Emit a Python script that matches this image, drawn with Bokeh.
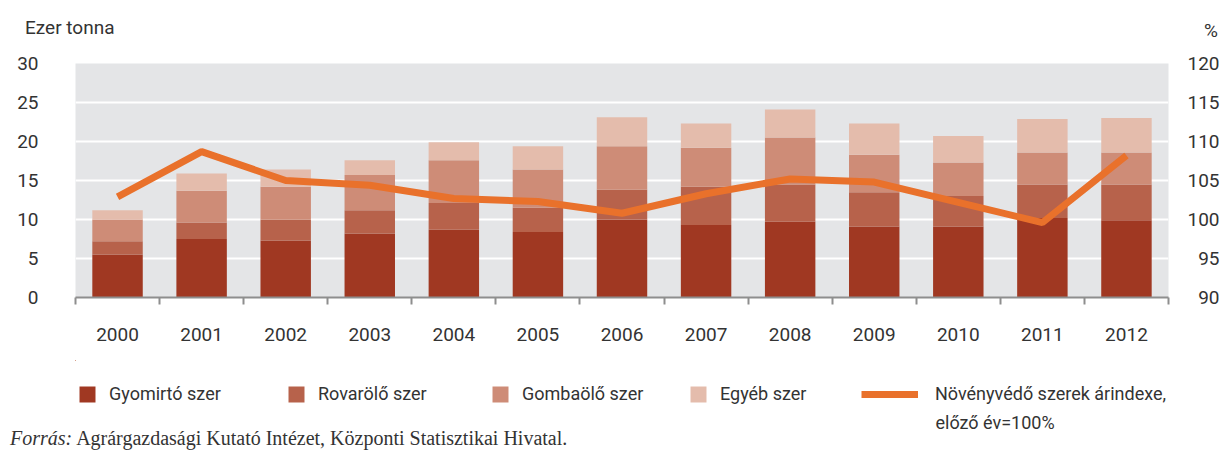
from bokeh.plotting import figure
from bokeh.layouts import column
from bokeh.models import (ColumnDataSource, Range1d, LinearAxis, FixedTicker,
                          Legend, LegendItem, Div)
from bokeh.core.properties import value
from bokeh.embed import file_html
from bokeh.resources import INLINE

# ---- data ----
years = ["2000", "2001", "2002", "2003", "2004", "2005", "2006",
         "2007", "2008", "2009", "2010", "2011", "2012"]
gyomirto = [5.5, 7.5, 7.3, 8.2, 8.7, 8.4, 10.0, 9.3, 9.7, 9.1, 9.1, 10.2, 9.9]
rovarolo = [1.7, 2.1, 2.7, 3.0, 3.4, 3.1, 3.8, 4.9, 4.8, 4.4, 3.9, 4.3, 4.6]
gombaolo = [2.8, 4.1, 4.2, 4.5, 5.5, 4.9, 5.6, 5.0, 6.0, 4.8, 4.3, 4.1, 4.1]
egyeb = [1.2, 2.2, 2.2, 1.9, 2.3, 3.0, 3.7, 3.1, 3.6, 4.0, 3.4, 4.3, 4.4]
arindex = [102.9, 108.7, 105.0, 104.4, 102.7, 102.3, 100.8,
           103.3, 105.2, 104.8, 102.2, 99.6, 108.2]
left_ticks = [0, 5, 10, 15, 20, 25, 30]
right_ticks = [90, 95, 100, 105, 110, 115, 120]
series_names = ["Gyomirtó szer", "Rovarölő szer", "Gombaölő szer", "Egyéb szer"]
line_name_1 = "Növényvédő szerek árindexe,"
line_name_2 = "előző év=100%"
left_unit = "Ezer tonna"
right_unit = "%"
source_lead = "Forrás:"
source_text = "Agrárgazdasági Kutató Intézet, Központi Statisztikai Hivatal."

FONT = "Roboto"
FS = "19px"
LFS = "18px"
TXT = "#333333"
colors = ["#A03822", "#B7624B", "#CE8C77", "#E4BCAC"]
LINE_COLOR = "#E9712B"
W = 1224
HEAD_H, MAIN_H, FOOT_H, SRC_H = 45, 315, 77, 13
BL, BR = 75, 56
FOOT_TOP = HEAD_H + MAIN_H

# ---- header (unit labels) ----
head = Div(width=W, height=HEAD_H, margin=0, text=(
    f'<div style="position:relative;width:{W}px;height:{HEAD_H}px;'
    f'font-family:{FONT};font-size:{FS};color:{TXT};line-height:20px;">'
    f'<span style="position:absolute;left:25px;top:18px;white-space:nowrap;">{left_unit}</span>'
    f'<span style="position:absolute;right:6px;top:21px;white-space:nowrap;">{right_unit}</span>'
    f'</div>'))

# ---- main chart ----
n = len(years)
xc = [i + 0.5 for i in range(n)]
source = ColumnDataSource(dict(x=xc, year=years, gy=gyomirto, rov=rovarolo,
                               gomb=gombaolo, egy=egyeb, idx=arindex))

p = figure(width=W, height=MAIN_H, output_backend="svg", toolbar_location=None,
           x_range=Range1d(0, n), y_range=Range1d(0, 30),
           min_border_left=BL, min_border_right=BR, min_border_top=18,
           min_border_bottom=63, background_fill_color="#E4E5E7",
           border_fill_color="white", outline_line_color=None)
p.extra_y_ranges = {"pct": Range1d(90, 120)}

p.xgrid.visible = False
p.ygrid.ticker = FixedTicker(ticks=left_ticks)
p.ygrid.grid_line_color = "white"
p.ygrid.grid_line_width = 2

p.vbar_stack(["gy", "rov", "gomb", "egy"], x="x", width=0.6,
             color=colors, line_color=None, source=source)
p.line("x", "idx", source=source, y_range_name="pct",
       line_color=LINE_COLOR, line_width=7)

xa = p.xaxis[0]
xa.ticker = FixedTicker(ticks=xc, minor_ticks=list(range(n + 1)))
xa.major_label_overrides = {xc[i]: years[i] for i in range(n)}
xa.major_tick_in = 0
xa.major_tick_out = 0
xa.minor_tick_in = 0
xa.minor_tick_out = 7
xa.minor_tick_line_color = "#8E8E8E"
xa.minor_tick_line_width = 2
xa.axis_line_color = "#8E8E8E"
xa.axis_line_width = 2
xa.major_label_standoff = 23
xa.major_label_text_font = FONT
xa.major_label_text_font_size = FS
xa.major_label_text_color = TXT

ya = p.yaxis[0]
ya.ticker = FixedTicker(ticks=left_ticks)
ya.axis_line_color = None
ya.major_tick_line_color = None
ya.minor_tick_line_color = None
ya.major_label_standoff = 31
ya.major_label_text_font = FONT
ya.major_label_text_font_size = FS
ya.major_label_text_color = TXT

ra = LinearAxis(y_range_name="pct", ticker=FixedTicker(ticks=right_ticks))
ra.major_label_overrides = {t: ("\u2007" + str(t) if t < 100 else str(t))
                            for t in right_ticks}
ra.axis_line_color = None
ra.major_tick_line_color = None
ra.minor_tick_line_color = None
ra.major_label_standoff = 13
ra.major_label_text_font = FONT
ra.major_label_text_font_size = FS
ra.major_label_text_color = TXT
p.add_layout(ra, "right")

# ---- footer: legend (keys reuse the same data, drawn outside the view) ----
foot = figure(width=W, height=FOOT_H, output_backend="svg", toolbar_location=None,
              x_range=Range1d(BL, W - BR), y_range=Range1d(FOOT_TOP + FOOT_H, FOOT_TOP),
              min_border_left=BL, min_border_right=BR, min_border_top=0,
              min_border_bottom=0, x_axis_location=None, y_axis_location=None,
              outline_line_color=None, background_fill_color="white",
              border_fill_color="white")
foot.grid.visible = False
key_bars = foot.vbar_stack(["gy", "rov", "gomb", "egy"], x="x", width=0.6,
                           color=colors, line_color=None, source=source)
key_line = foot.line("x", "idx", source=source, line_color=LINE_COLOR, line_width=7)

common = dict(padding=0, margin=0, border_line_color=None, background_fill_alpha=0,
              label_text_font=FONT, label_text_font_size=LFS, label_text_color=TXT)
key_x = [77, 286, 490, 688]
leg_y = FOOT_H - 44
for i in range(4):
    foot.add_layout(Legend(items=[LegendItem(label=series_names[i], renderers=[key_bars[i]])],
                           location=(key_x[i] - BL, leg_y), glyph_width=20, glyph_height=20,
                           label_standoff=12, **common))
foot.add_layout(Legend(items=[LegendItem(label=line_name_1, renderers=[key_line])],
                       location=(861 - BL, leg_y), glyph_width=57, glyph_height=20,
                       label_standoff=17, **common))
foot.text(x=[935], y=[FOOT_TOP + 62], text=[line_name_2], text_font=value(FONT),
          text_font_size=LFS, text_color=TXT, text_baseline="middle")

# ---- source line ----
src = Div(width=W, height=SRC_H, margin=0, text=(
    f'<div style="position:relative;width:{W}px;height:{SRC_H}px;'
    f'font-family:\'Liberation Serif\';font-size:20px;color:{TXT};line-height:14px;">'
    f'<span style="position:absolute;left:10px;top:-6px;white-space:nowrap;">'
    f'<i>{source_lead}</i> {source_text}</span></div>'))

layout = column(head, p, foot, src, spacing=0)
open("out.html", "w").write(file_html(layout, INLINE))
